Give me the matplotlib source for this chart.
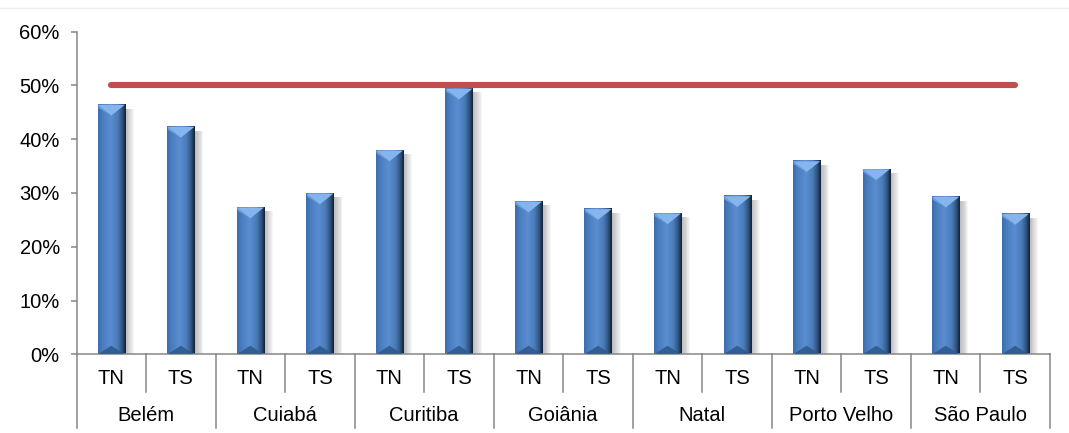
import numpy as np
import matplotlib
matplotlib.use("Agg")
import matplotlib.pyplot as plt
from matplotlib.colors import LinearSegmentedColormap
from matplotlib.patches import Polygon, Rectangle
from matplotlib.lines import Line2D
import matplotlib.transforms as mtransforms

plt.rcParams['font.family'] = ['Liberation Sans', 'DejaVu Sans']

cities = ["Belém", "Cuiabá", "Curitiba", "Goiânia", "Natal", "Porto Velho", "São Paulo"]
sub_labels = ["TN", "TS"]
values = [46.4, 42.3, 27.3, 29.9, 37.9, 49.4, 28.4, 27.0, 26.2, 29.4, 35.9, 34.4, 29.3, 26.1]
target = [50, 50, 50, 50, 50, 50, 50, 50, 50, 50, 50, 50, 50, 50]
y_ticks = [0, 10, 20, 30, 40, 50, 60]

fig = plt.figure(figsize=(10.69, 4.33), dpi=100)
ax = fig.add_axes([76.5 / 1069, (433 - 354.3) / 433, 973.5 / 1069, 322.6 / 433])

x = np.arange(len(values))
bars = ax.bar(x, values, width=0.39, color="#4F81BD", zorder=2)

# bevelled look: horizontal gradient, light top bevel, dark bottom bevel, soft shadow
grad_cmap = LinearSegmentedColormap.from_list(
    "bevel", [(0.0, "#3C6CAA"), (0.15, "#4A7DBF"), (0.45, "#5A8ED0"),
              (0.7, "#4A7CBB"), (0.86, "#335885"), (1.0, "#13213A")])
grad = np.linspace(0, 1, 64).reshape(1, -1)
top_bevel = 2.0
bot_bevel = 1.6
for b in bars:
    x0, w, h = b.get_x(), b.get_width(), b.get_height()
    x1, xc = x0 + w, x0 + w / 2
    b.set_visible(False)
    # shadow
    for k in range(10):
        ax.add_patch(Rectangle((x1, 0.1), 0.013 * (k + 1), h - 0.8,
                               color="#707070", alpha=0.06, lw=0, zorder=1))
    ax.imshow(grad, extent=[x0, x1, 0, h], aspect="auto", cmap=grad_cmap,
              interpolation="bilinear", zorder=2)
    ax.add_patch(Polygon([(x0, h), (x1, h), (xc, h - top_bevel)],
                         closed=True, color="#86B4EE", lw=0, zorder=3))
    ax.add_patch(Polygon([(x0, h), (xc, h - top_bevel), (x0 + 0.04 * w, h - top_bevel * 0.3)],
                         closed=True, color="#6E9FDC", lw=0, zorder=3))
    ax.add_patch(Polygon([(x0, 0), (x1, 0), (xc, bot_bevel)],
                         closed=True, color="#2F5A8E", lw=0, alpha=0.9, zorder=3))

ax.plot(x, target, color="#C0504D", lw=4.4, solid_capstyle="round", zorder=4)

ax.set_xlim(-0.5, len(values) - 0.5)
ax.set_ylim(0, 60)
ax.set_yticks(y_ticks)
ax.set_yticklabels([f"{v}%" for v in y_ticks], fontsize=14.5)
ax.set_xticks([])

gray = "#868686"
for side in ["top", "right"]:
    ax.spines[side].set_visible(False)
for side in ["left", "bottom"]:
    ax.spines[side].set_color(gray)
    ax.spines[side].set_linewidth(1.1)
ax.tick_params(axis="y", length=4, width=1.1, color=gray, pad=8)

# two-level category axis
trans = mtransforms.blended_transform_factory(ax.transData, ax.transAxes)
short_y = -0.116
long_y = -0.228
for i in range(len(values)):
    ax.text(i, -0.0735, sub_labels[i % 2], transform=trans, ha="center", va="center", fontsize=14.5)
for j, city in enumerate(cities):
    ax.text(2 * j + 0.5, -0.191, city, transform=trans, ha="center", va="center", fontsize=14.5)
for k in range(len(values) + 1):
    y_end = long_y if k % 2 == 0 else short_y
    ax.add_line(Line2D([k - 0.5, k - 0.5], [0, y_end], transform=trans,
                       color=gray, lw=1.1, clip_on=False))

# faint border of the cropped title area
fig.add_artist(Line2D([0, 1], [1 - 8 / 433, 1 - 8 / 433], transform=fig.transFigure,
                      color="#EEEEEE", lw=1))

fig.savefig("out.png", dpi=100)
